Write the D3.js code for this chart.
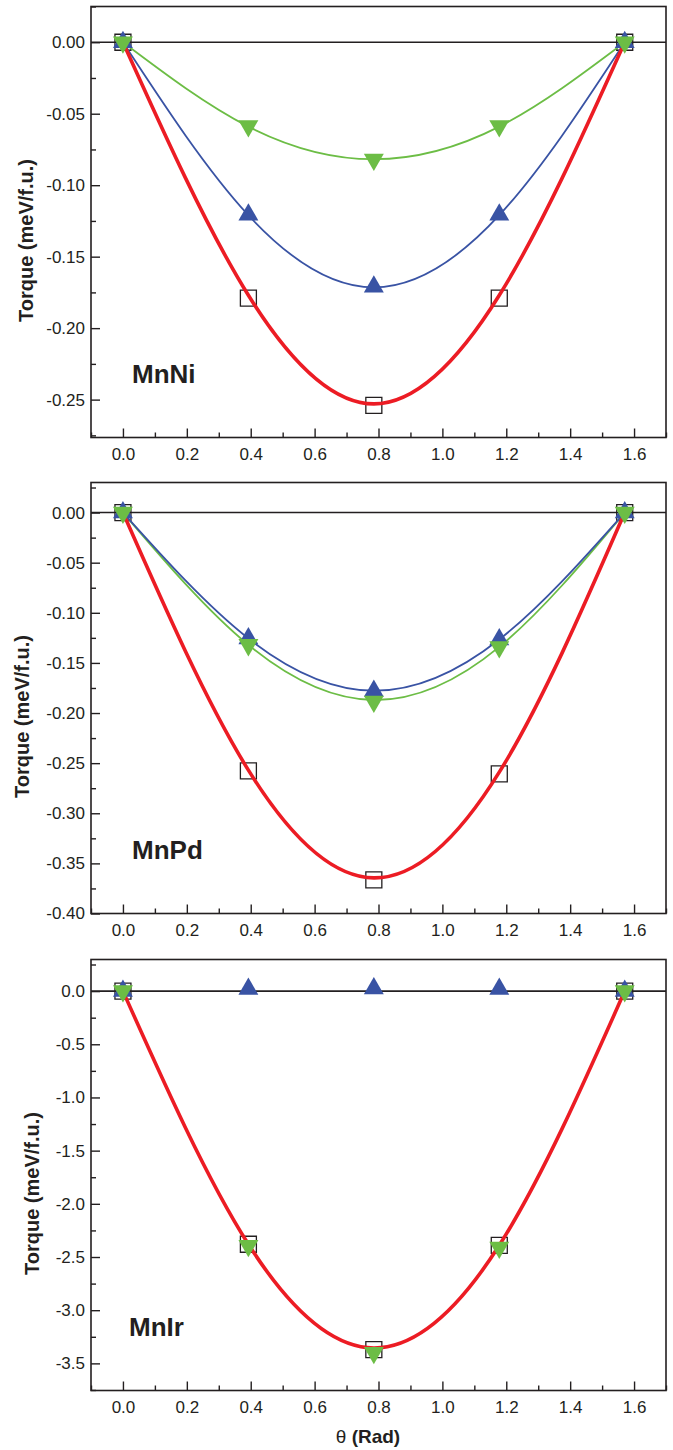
<!DOCTYPE html>
<html>
<head>
<meta charset="utf-8">
<script src="https://cdn.jsdelivr.net/npm/d3@7"></script>
<style>
  body { margin: 0; background: #fff; }
  svg { display: block; }
  text { font-family: "Liberation Sans", Arial, sans-serif; fill: #231f20; }
</style>
</head>
<body>
<svg></svg>
<script>
var width = 673;
var height = 1450;

// theta values (rad): 0, pi/8, pi/4, 3pi/8, pi/2
var theta = [0, 0.3927, 0.7854, 1.1781, 1.5708];
var xTicks = [0, 0.2, 0.4, 0.6, 0.8, 1.0, 1.2, 1.4, 1.6];
var xMinor = [-0.1, 0.1, 0.3, 0.5, 0.7, 0.9, 1.1, 1.3, 1.5, 1.7];

// MnNi
var niSquare = [0, -0.179, -0.254, -0.179, 0];
var niUp     = [0, -0.1206, -0.171, -0.1206, 0];
var niDown   = [0, -0.0586, -0.082, -0.0586, 0];
var niRedFit   = [0, -0.177, -0.253, -0.177, 0];
var niBlueFit  = [0, -0.121, -0.1715, -0.121, 0];
var niGreenFit = [0, -0.059, -0.0818, -0.059, 0];
var niTicks = [0, -0.05, -0.10, -0.15, -0.20, -0.25];
var niMinor = [0.025, -0.025, -0.075, -0.125, -0.175, -0.225, -0.275];

// MnPd
var pdSquare = [0, -0.2577, -0.3665, -0.2607, 0];
var pdUp     = [0, -0.1256, -0.178, -0.1266, 0];
var pdDown   = [0, -0.132, -0.1886, -0.134, 0];
var pdRedFit   = [0, -0.257, -0.3645, -0.259, 0];
var pdBlueFit  = [0, -0.1256, -0.1777, -0.1266, 0];
var pdGreenFit = [0, -0.132, -0.187, -0.134, 0];
var pdTicks = [0, -0.05, -0.10, -0.15, -0.20, -0.25, -0.30, -0.35, -0.40];
var pdMinor = [0.025, -0.025, -0.075, -0.125, -0.175, -0.225, -0.275, -0.325, -0.375];

// MnIr
var irSquare = [0, -2.38, -3.37, -2.39, 0];
var irUp     = [0, 0.02, 0.025, 0.02, 0];
var irDown   = [0, -2.395, -3.40, -2.41, 0];
var irRedFit = [0, -2.38, -3.355, -2.39, 0];
var irTicks = [0, -0.5, -1.0, -1.5, -2.0, -2.5, -3.0, -3.5];
var irMinor = [0.25, -0.25, -0.75, -1.25, -1.75, -2.25, -2.75, -3.25, -3.75];

var red = "#ec1c24", blue = "#3953a4", green = "#6cbd45", ink = "#231f20";

var svg = d3.select("svg")
    .attr("width", width)
    .attr("height", height);

var left = 91, right = 666;
var xScale = d3.scaleLinear().domain([-0.1, 1.7]).range([left, right]);

function zip(ys) {
    return theta.map(function(t, i) { return [t, ys[i]]; });
}

function drawPanel(p) {
    var top = p.top, bottom = p.top + 431;
    var yScale = d3.scaleLinear().domain(p.domain).range([bottom, top]);
    var g = svg.append("g");

    // x axis: major + minor ticks, inward
    g.append("g")
        .attr("transform", "translate(0," + bottom + ")")
        .call(d3.axisBottom(xScale).tickValues(xTicks).tickSize(-9).tickPadding(10)
            .tickFormat(function(d) { return d.toFixed(1); }))
        .call(styleAxis);
    g.append("g")
        .attr("transform", "translate(0," + bottom + ")")
        .call(d3.axisBottom(xScale).tickValues(xMinor).tickSize(-5).tickFormat(""))
        .call(styleAxis);

    // y axis
    g.append("g")
        .attr("transform", "translate(" + left + ",0)")
        .call(d3.axisLeft(yScale).tickValues(p.ticks).tickSize(-9).tickPadding(6)
            .tickFormat(function(d) { return d.toFixed(p.digits); }))
        .call(styleAxis);
    g.append("g")
        .attr("transform", "translate(" + left + ",0)")
        .call(d3.axisLeft(yScale).tickValues(p.minor.filter(function(v) {
                return v >= p.domain[0] && v <= p.domain[1];
            })).tickSize(-5).tickFormat(""))
        .call(styleAxis);

    // frame
    g.append("rect")
        .attr("x", left).attr("y", top)
        .attr("width", right - left).attr("height", bottom - top)
        .attr("fill", "none").attr("stroke", ink).attr("stroke-width", 1.6);

    // zero line
    g.append("line")
        .attr("x1", left).attr("x2", right)
        .attr("y1", yScale(0)).attr("y2", yScale(0))
        .attr("stroke", ink).attr("stroke-width", 1.6);

    var line = d3.line()
        .x(function(d) { return xScale(d[0]); })
        .y(function(d) { return yScale(d[1]); })
        .curve(d3.curveNatural);

    // open squares
    g.selectAll(".sq").data(zip(p.square)).enter().append("path")
        .attr("d", d3.symbol().type(d3.symbolSquare).size(256))
        .attr("transform", function(d) { return "translate(" + xScale(d[0]) + "," + yScale(d[1]) + ")"; })
        .attr("fill", "none").attr("stroke", ink).attr("stroke-width", 1.3);

    if (p.greenFit) {
        g.append("path").datum(zip(p.greenFit)).attr("d", line)
            .attr("fill", "none").attr("stroke", green).attr("stroke-width", 1.8);
    }
    if (p.blueFit) {
        g.append("path").datum(zip(p.blueFit)).attr("d", line)
            .attr("fill", "none").attr("stroke", blue).attr("stroke-width", 1.8);
    }
    g.append("path").datum(zip(p.redFit)).attr("d", line)
        .attr("fill", "none").attr("stroke", red).attr("stroke-width", 3.6);

    var tri = d3.symbol().type(d3.symbolTriangle).size(172);
    g.selectAll(".up").data(zip(p.up)).enter().append("path")
        .attr("d", tri)
        .attr("transform", function(d) { return "translate(" + xScale(d[0]) + "," + yScale(d[1]) + ")"; })
        .attr("fill", blue);
    g.selectAll(".down").data(zip(p.down)).enter().append("path")
        .attr("d", tri)
        .attr("transform", function(d) { return "translate(" + xScale(d[0]) + "," + yScale(d[1]) + ") rotate(180)"; })
        .attr("fill", green);

    // labels
    g.append("text")
        .attr("x", p.labelX).attr("y", top + 376)
        .style("font-size", "26px").style("font-weight", "bold")
        .text(p.name);

    g.append("text")
        .attr("transform", "translate(" + p.titleX + "," + (top + 234) + ") rotate(-90)")
        .style("text-anchor", "middle")
        .style("font-size", "20px").style("font-weight", "bold")
        .text("Torque (meV/f.u.)");
}

function styleAxis(sel) {
    sel.select(".domain").remove();
    sel.selectAll("line").attr("stroke", ink).attr("stroke-width", 1.4);
    sel.selectAll("text")
        .style("font-family", "'Liberation Sans', Arial, sans-serif")
        .style("font-size", "17px").attr("fill", ink);
}

drawPanel({
    top: 6.5, domain: [-0.2765, 0.025], ticks: niTicks, minor: niMinor, digits: 2,
    square: niSquare, up: niUp, down: niDown,
    redFit: niRedFit, blueFit: niBlueFit, greenFit: niGreenFit,
    name: "MnNi", labelX: 132, titleX: 33
});
drawPanel({
    top: 482.5, domain: [-0.40, 0.03], ticks: pdTicks, minor: pdMinor, digits: 2,
    square: pdSquare, up: pdUp, down: pdDown,
    redFit: pdRedFit, blueFit: pdBlueFit, greenFit: pdGreenFit,
    name: "MnPd", labelX: 132, titleX: 29
});
drawPanel({
    top: 959.5, domain: [-3.755, 0.297], ticks: irTicks, minor: irMinor, digits: 1,
    square: irSquare, up: irUp, down: irDown,
    redFit: irRedFit, blueFit: null, greenFit: null,
    name: "MnIr", labelX: 129, titleX: 39
});

// x axis title
var xt = svg.append("text")
    .attr("x", 368).attr("y", 1443)
    .style("text-anchor", "middle")
    .style("font-size", "19px");
xt.append("tspan").text("θ ");
xt.append("tspan").style("font-weight", "bold").text("(Rad)");
</script>
</body>
</html>
